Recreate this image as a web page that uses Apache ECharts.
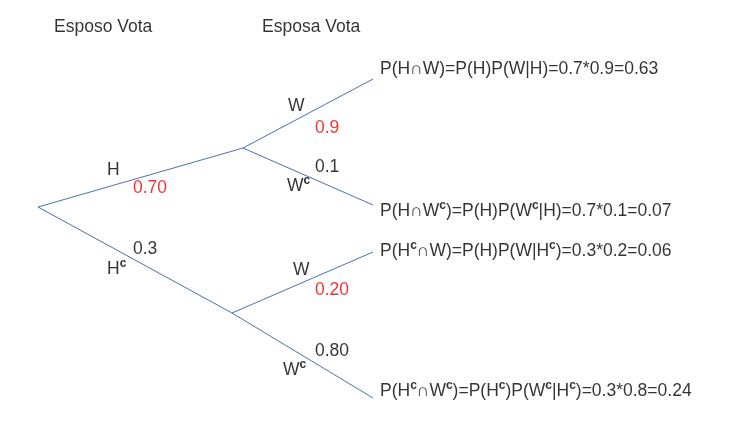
<!DOCTYPE html>
<html><head><meta charset="utf-8">
<script src="https://cdn.jsdelivr.net/npm/echarts@6/dist/echarts.min.js"></script>
<style>html,body{margin:0;background:#fff}#c{width:736px;height:424px}</style>
</head><body><div id="c"></div>
<script>
// tree nodes (drawing coordinates) and branches
var nodeNames = ['root', 'H', 'Hc', 'HW', 'HWc', 'HcW', 'HcWc'];
var nodeX = [38, 243, 232, 373, 373, 373, 373];
var nodeY = [207, 148, 313, 79, 205, 252, 398];
var edges = [[0, 1], [0, 2], [1, 3], [1, 4], [2, 5], [2, 6]];

// texts: [x, y, text, colour]
var labels = [
  [54, 27, 'Esposo Vota', '#000'],
  [262, 27, 'Esposa Vota', '#000'],
  [107, 170, 'H', '#000'],
  [133, 188, '0.70', '#e00'],
  [133, 249, '0.3', '#000'],
  [107, 269, 'H{s|c}', '#000'],
  [288, 106, 'W', '#000'],
  [315, 128, '0.9', '#e00'],
  [315, 167, '0.1', '#000'],
  [287, 186, 'W{s|c}', '#000'],
  [293, 270, 'W', '#000'],
  [315, 290, '0.20', '#e00'],
  [315, 351, '0.80', '#000'],
  [283, 370, 'W{s|c}', '#000'],
  [380, 69, 'P(H∩W)=P(H)P(W|H)=0.7*0.9=0.63', '#000'],
  [380, 211, 'P(H∩W{s|c})=P(H)P(W{s|c}|H)=0.7*0.1=0.07', '#000'],
  [380, 251, 'P(H{s|c}∩W)=P(H)P(W|H{s|c})=0.3*0.2=0.06', '#000'],
  [380, 391, 'P(H{s|c}∩W{s|c})=P(H{s|c})P(W{s|c}|H{s|c})=0.3*0.8=0.24', '#000']
];

var series = edges.map(function (e) {
  return {
    type: 'line', symbol: 'none', silent: true,
    lineStyle: { color: '#4a72b0', width: 1 },
    data: [[nodeX[e[0]], nodeY[e[0]]], [nodeX[e[1]], nodeY[e[1]]]]
  };
});
series.push({
  type: 'scatter', symbolSize: 0, silent: true,
  data: labels.map(function (l) {
    return {
      value: [l[0], l[1]],
      label: {
        show: true, position: 'inside', align: 'left', verticalAlign: 'middle',
        formatter: l[2], color: l[3], fontSize: 17.5,
        fontFamily: 'Liberation Sans, Arial',
        rich: { s: { fontSize: 12, color: l[3], padding: [0, 0, 10, 0], fontWeight: 'bold', fontFamily: 'Liberation Sans, Arial' } }
      }
    };
  })
});

var chart = echarts.init(document.getElementById('c'));
chart.setOption({
  animation: false,
  backgroundColor: '#fff',
  grid: { left: 0, right: 0, top: 0, bottom: 0 },
  xAxis: { type: 'value', min: 0, max: 736, show: false },
  yAxis: { type: 'value', min: 0, max: 424, inverse: true, show: false },
  series: series
});
</script></body></html>
